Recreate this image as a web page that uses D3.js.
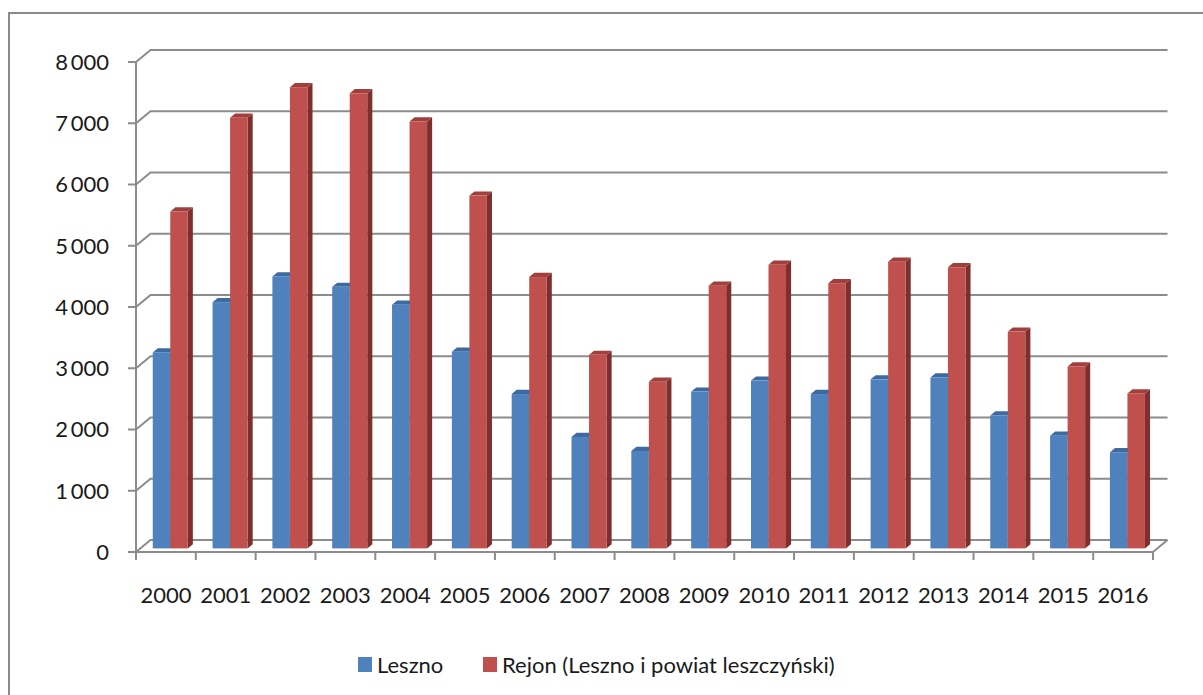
<!DOCTYPE html>
<html>
<head>
<meta charset="utf-8">
<script src="https://cdn.jsdelivr.net/npm/d3@7"></script>
<style>
  body { margin: 0; background: #fff; }
  text { font-family: Lato, "Open Sans", sans-serif; fill: #1a1a1a; }
</style>
</head>
<body>
<div id="vis"></div>
<script>
var years = ["2000", "2001", "2002", "2003", "2004", "2005", "2006", "2007", "2008",
  "2009", "2010", "2011", "2012", "2013", "2014", "2015", "2016"];
var leszno = [3200, 4020, 4440, 4270, 3980, 3210, 2520, 1820, 1590,
  2560, 2740, 2520, 2760, 2790, 2170, 1840, 1570];
var rejon = [5500, 7030, 7530, 7430, 6970, 5760, 4430, 3160, 2720,
  4290, 4630, 4330, 4680, 4590, 3540, 2970, 2530];
var seriesNames = ["Leszno", "Rejon (Leszno i powiat leszczyński)"];
var yTicks = [0, 1000, 2000, 3000, 4000, 5000, 6000, 7000, 8000];

var width = 1203, height = 695;

// 3d depth vector of the floor / back wall
var depth = { dx: 14.5, dy: -12 };
var barFront = 0.3, barDepth = 0.35;

var colours = {
  Leszno: { front: "#4f81bd", top: "#3d6a9f", side: "#375d8a" },
  Rejon: { front: "#c0504d", top: "#a03f3c", side: "#7c2f2d" }
};

var svg = d3.select('#vis')
  .append('svg')
  .attr('width', width)
  .attr('height', height);

svg.append('rect')
  .attr('width', width)
  .attr('height', height)
  .attr('fill', '#fff');

// outer chart border
svg.append('path')
  .attr('d', 'M9,' + height + 'V13H' + width)
  .attr('fill', 'none')
  .attr('stroke', '#8a8a8a')
  .attr('stroke-width', 2);

var x_scale = d3.scaleBand()
  .domain(years)
  .range([136, 1153])
  .padding(0);

var x1 = d3.scaleBand()
  .domain(["Leszno", "Rejon"])
  .range([0, x_scale.bandwidth()])
  .paddingInner(0)
  .paddingOuter(0.708);

var y_scale = d3.scaleLinear()
  .domain([0, 8000])
  .range([552, 62]);

var fmt = d3.formatLocale({ decimal: ",", thousands: "\u2009", grouping: [3], currency: ["", ""] }).format(",d");

var grid = svg.append('g');
var x0 = x_scale.range()[0], x1end = x_scale.range()[1];

// back wall gridlines with diagonal to front axis
yTicks.forEach(function(t) {
  var y = y_scale(t);
  grid.append('path')
    .attr('d', 'M' + (x0 - 8) + ',' + y + 'H' + x0 + 'L' + (x0 + depth.dx) + ',' + (y + depth.dy) +
      'H' + (x1end + depth.dx))
    .attr('fill', 'none')
    .attr('stroke', '#8c8c8c')
    .attr('stroke-width', 2);
  grid.append('text')
    .attr('x', 109)
    .attr('y', y)
    .attr('dy', '0.36em')
    .attr('text-anchor', 'end')
    .style('font-size', '22px')
    .text(fmt(t));
});

// front vertical axis and floor
grid.append('path')
  .attr('d', 'M' + x0 + ',' + y_scale(8000) + 'V' + y_scale(0) + 'H' + x1end +
    'L' + (x1end + depth.dx) + ',' + (y_scale(0) + depth.dy))
  .attr('fill', 'none')
  .attr('stroke', '#8c8c8c')
  .attr('stroke-width', 2);

// x ticks
var edges = years.map(function(d) { return x_scale(d); }).concat([x1end]);
grid.selectAll('.xtick')
  .data(edges)
  .enter()
  .append('line')
  .attr('x1', function(d) { return d; })
  .attr('x2', function(d) { return d; })
  .attr('y1', y_scale(0))
  .attr('y2', y_scale(0) + 8)
  .attr('stroke', '#8c8c8c')
  .attr('stroke-width', 2);

grid.selectAll('.xlab')
  .data(years)
  .enter()
  .append('text')
  .attr('x', function(d) { return x_scale(d) + x_scale.bandwidth() / 2; })
  .attr('y', 595)
  .attr('dy', '0.36em')
  .attr('text-anchor', 'middle')
  .style('font-size', '22px')
  .text(function(d) { return d; });

// 3d bars
var fdx = depth.dx * barFront, fdy = depth.dy * barFront;
var sdx = depth.dx * barDepth, sdy = depth.dy * barDepth;

var bars = svg.append('g');
years.forEach(function(year, i) {
  [["Leszno", leszno[i]], ["Rejon", rejon[i]]].forEach(function(s) {
    var c = colours[s[0]];
    var bx = x_scale(year) + x1(s[0]) + fdx;
    var bw = x1.bandwidth();
    var yb = y_scale(0) + fdy;
    var yt = y_scale(s[1]) + fdy;
    var g = bars.append('g');
    g.append('path')
      .attr('d', 'M' + (bx + bw) + ',' + yt + 'L' + (bx + bw + sdx) + ',' + (yt + sdy) +
        'L' + (bx + bw + sdx) + ',' + (yb + sdy) + 'L' + (bx + bw) + ',' + yb + 'Z')
      .attr('fill', c.side);
    g.append('path')
      .attr('d', 'M' + bx + ',' + yt + 'L' + (bx + sdx) + ',' + (yt + sdy) +
        'L' + (bx + bw + sdx) + ',' + (yt + sdy) + 'L' + (bx + bw) + ',' + yt + 'Z')
      .attr('fill', c.top);
    g.append('rect')
      .attr('x', bx)
      .attr('y', yt)
      .attr('width', bw)
      .attr('height', yb - yt)
      .attr('fill', c.front);
  });
});

// legend
var legend = svg.append('g');
var legendItems = [
  { key: "Leszno", name: seriesNames[0], x: 358 },
  { key: "Rejon", name: seriesNames[1], x: 483 }
];
legendItems.forEach(function(d) {
  legend.append('rect')
    .attr('x', d.x)
    .attr('y', 657)
    .attr('width', 14)
    .attr('height', 15)
    .attr('fill', colours[d.key].front);
  legend.append('text')
    .attr('x', d.x + 19)
    .attr('y', 665)
    .attr('dy', '0.36em')
    .style('font-size', '22px')
    .text(d.name);
});
</script>
</body>
</html>
